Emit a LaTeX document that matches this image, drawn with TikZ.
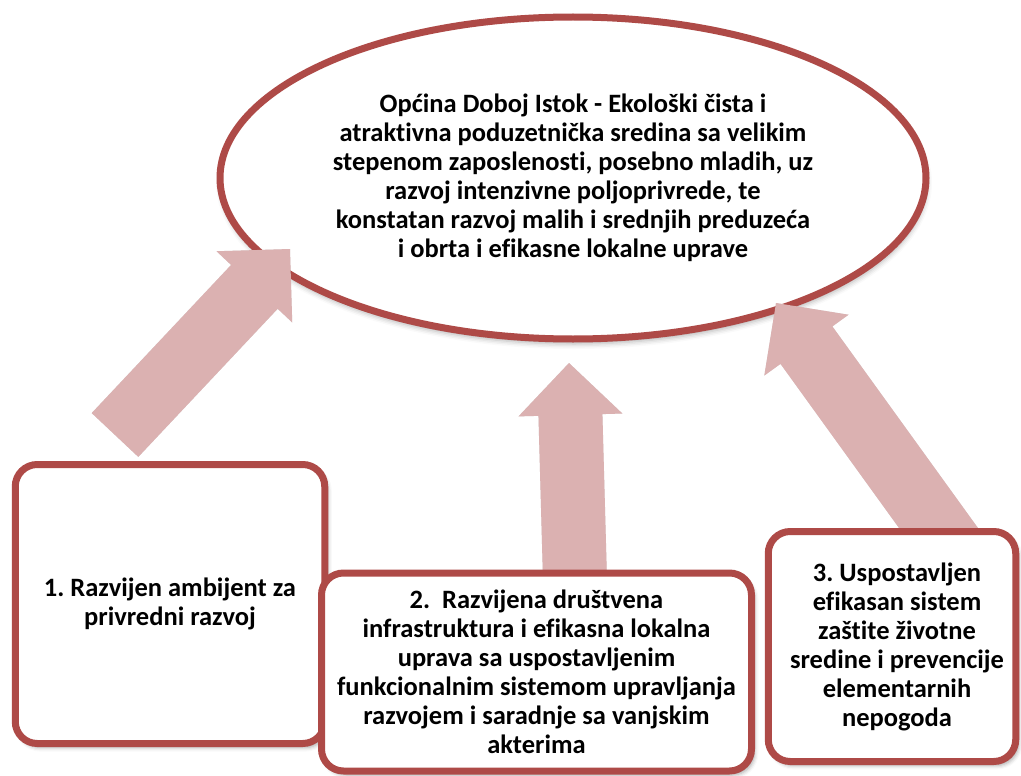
\documentclass[tikz,border=0pt]{standalone}
\usepackage{fontspec}
\setmainfont{Carlito}[Ligatures=NoCommon]
\frenchspacing
\usetikzlibrary{calc,shapes.geometric,shadows.blur}
\definecolor{bord}{HTML}{AE4A47}
\definecolor{arw}{HTML}{DBB1B1}
\tikzset{
  txt/.style={font=\fontsize{26.5}{29}\selectfont\bfseries, align=center, text=black},
  goal/.style={ellipse, draw=bord, line width=7pt, fill=white, inner sep=0pt,
    minimum width=706pt, minimum height=322pt, txt,
    blur shadow={shadow xshift=1pt, shadow yshift=-5pt, shadow blur radius=5pt, shadow opacity=30}},
  stepbox/.style={rectangle, draw=bord, line width=7pt, fill=white, rounded corners=22pt,
    inner sep=0pt, txt,
    blur shadow={shadow xshift=3pt, shadow yshift=-4pt, shadow blur radius=4pt, shadow opacity=35}},
  arrowbody/.style={fill=arw},
  arrowshade/.style={fill=black, opacity=0.12, xshift=2pt, yshift=-3pt}
}
\newcommand\blockarr[3][arrowbody]{%
  \coordinate (J) at ($(#3)!52pt!(#2)$);
  \fill[#1] ($(#2)!32pt!90:(#3)$) -- ($(#2)!32pt!-90:(#3)$)
    -- ($(J)!32pt!90:(#2)$) -- ($(J)!52pt!90:(#2)$) -- (#3)
    -- ($(J)!52pt!-90:(#2)$) -- ($(J)!32pt!-90:(#2)$) -- cycle;
}
\begin{document}
\begin{tikzpicture}[x=1pt,y=-1pt]
\useasboundingbox (0,0) rectangle (1021,776);
\node[goal] (vision) at (573,178) {Općina Doboj Istok - Ekološki čista i\\
atraktivna poduzetnička sredina sa velikim\\
stepenom zaposlenosti, posebno mladih, uz\\
razvoj intenzivne poljoprivrede, te\\
konstatan razvoj malih i srednjih preduzeća\\
i obrta i efikasne lokalne uprave};
\coordinate (a1t) at (115,435);
\coordinate (a1h) at (290,249);
\coordinate (a2t) at (575,580);
\coordinate (a2h) at (569,363);
\coordinate (a3t) at (958,555);
\coordinate (a3h) at (776,303);
\blockarr[arrowshade]{a1t}{a1h}
\blockarr{a1t}{a1h}
\blockarr[arrowshade]{a2t}{a2h}
\blockarr{a2t}{a2h}
\blockarr[arrowshade]{a3t}{a3h}
\blockarr{a3t}{a3h}
\node[stepbox, minimum width=309.5pt, minimum height=279pt] (g1) at (170,604)
  {1. Razvijen ambijent za\\privredni razvoj};
\node[stepbox, minimum width=430pt, minimum height=198pt] (g2) at (536.5,672)
  {2.\ \ Razvijena društvena\\
infrastruktura i efikasna lokalna\\
uprava sa uspostavljenim\\
funkcionalnim sistemom upravljanja\\
razvojem i saradnje sa vanjskim\\
akterima};
\node[stepbox, minimum width=247.5pt, minimum height=230pt] (g3) at (892,646.5)
  {\hspace*{10pt}3. Uspostavljen\\
\hspace*{10pt}efikasan sistem\\
\hspace*{10pt}zaštite životne\\
\hspace*{10pt}sredine i prevencije\\
\hspace*{10pt}elementarnih\\
\hspace*{10pt}nepogoda};
\end{tikzpicture}
\end{document}
